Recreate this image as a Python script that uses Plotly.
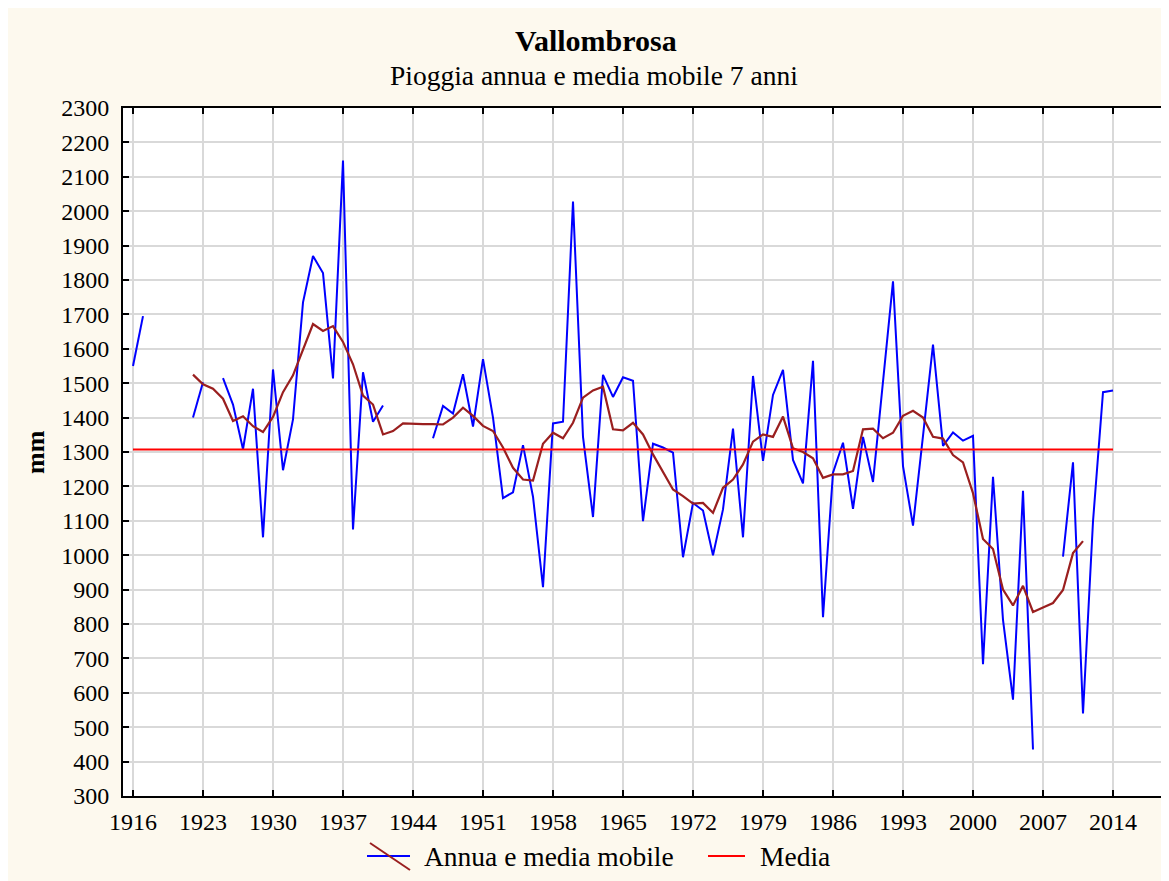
import plotly.graph_objects as go

# ---------------- data ----------------
years = list(range(1916, 2015))

annual = [
    1550, 1695, None, None, None, None, 1400, 1503, None, 1515,   # 1916-1925
    1438, 1308, 1484, 1052, 1540, 1247, 1395, 1735, 1870, 1820,   # 1926-1935
    1514, 2147, 1075, 1532, 1388, 1435, None, None, None, None,   # 1936-1945
    1340, 1434, 1412, 1526, 1374, 1570, 1400, 1166, 1183, 1320,   # 1946-1955
    1170, 907, 1383, 1388, 2028, 1344, 1111, 1524, 1460, 1517,    # 1956-1965
    1507, 1099, 1324, 1313, 1298, 994, 1152, 1130, 1000, 1133,    # 1966-1975
    1368, 1052, 1521, 1274, 1466, 1539, 1277, 1209, 1565, 820,    # 1976-1985
    1240, 1327, 1135, 1344, 1213, 1500, 1796, 1259, 1086, 1347,   # 1986-1995
    1612, 1318, 1357, 1333, 1347, 683, 1228, 812, 580, 1187,      # 1996-2005
    435, None, None, 996, 1270, 540, 1098, 1474, 1479,            # 2006-2014
]

ma_years = list(range(1922, 2012))
moving_avg = [
    1525, 1497, 1484, 1455, 1390, 1404, 1375, 1358, 1402, 1474,   # 1922-1931
    1523, 1598, 1672, 1652, 1666, 1620, 1555, 1464, 1438, 1351,   # 1932-1941
    1361, 1383, 1381, 1381, 1381, 1380, 1400, 1429, 1405, 1376,   # 1942-1951
    1361, 1313, 1254, 1220, 1217, 1324, 1356, 1340, 1385, 1458,   # 1952-1961
    1479, 1490, 1366, 1363, 1385, 1351, 1293, 1243, 1191, 1172,   # 1962-1971
    1150, 1152, 1123, 1196, 1220, 1264, 1330, 1351, 1344, 1403,   # 1972-1981
    1311, 1300, 1282, 1225, 1235, 1235, 1245, 1366, 1368, 1340,   # 1982-1991
    1356, 1405, 1420, 1400, 1344, 1339, 1291, 1270, 1180, 1047,   # 1992-2001
    1018, 900, 854, 911, 835, 848, 861, 899, 1006, 1041,          # 2002-2011
]

mean_years = [1916, 2014]
mean_value = [1307, 1307]

x_ticks = list(range(1916, 2015, 7))
y_ticks = list(range(300, 2301, 100))

legend_labels = ["Annua e media mobile", "Media"]

# ---------------- figure ----------------
W, H = 1169, 881
ML, MR, MT, MB = 115, 0, 100, 93
PW, PH = W - ML - MR, H - MT - MB

def px(x):
    return (x - ML) / PW

def py(y):
    return (H - MB - y) / PH

FONT = "Liberation Serif, Times New Roman, serif"
CREAM = "#FDF9EE"
BLUE, BROWN, RED = "#0000FF", "#9A1F1F", "#FF0000"

fig = go.Figure()

fig.add_trace(go.Scatter(
    x=years, y=annual, mode="lines", name=legend_labels[0],
    line=dict(color=BLUE, width=2), connectgaps=False,
))
fig.add_trace(go.Scatter(
    x=ma_years, y=moving_avg, mode="lines", name="Media mobile 7 anni",
    line=dict(color=BROWN, width=2.2),
))
fig.add_trace(go.Scatter(
    x=mean_years, y=mean_value, mode="lines", name=legend_labels[1],
    line=dict(color=RED, width=2),
))

x_end = 1915 + PW / 10.0
LEG_Y = 848

fig.update_layout(
    width=W, height=H,
    margin=dict(l=ML, r=MR, t=MT, b=MB, pad=0),
    paper_bgcolor=CREAM,
    plot_bgcolor="white",
    font=dict(family=FONT, size=24, color="black"),
    showlegend=False,
    xaxis=dict(
        range=[1915, x_end], tickvals=x_ticks, ticks="inside", ticklen=6,
        tickwidth=1.5, tickcolor="black", showline=True, linecolor="black",
        linewidth=2, mirror="ticks", showgrid=True, gridcolor="#D9D9D9",
        gridwidth=1.5, zeroline=False, tickfont=dict(size=24),
        ticklabelstandoff=3,
    ),
    yaxis=dict(
        range=[300, 2300], tickvals=y_ticks, ticks="inside", ticklen=6,
        tickwidth=1.5, tickcolor="black", showline=True, linecolor="black",
        linewidth=2, mirror=False, showgrid=True, gridcolor="#D9D9D9",
        gridwidth=1.5, zeroline=False, tickfont=dict(size=24),
        ticklabelstandoff=7,
    ),
    annotations=[
        dict(text="<b>Vallombrosa</b>", x=px(588), y=py(32), xref="paper", yref="paper",
             showarrow=False, font=dict(family=FONT, size=30), xanchor="center", yanchor="middle"),
        dict(text="Pioggia annua e media mobile 7 anni", x=px(586), y=py(68), xref="paper",
             yref="paper", showarrow=False, font=dict(family=FONT, size=27.5),
             xanchor="center", yanchor="middle"),
        dict(text="<b>mm</b>", x=px(27), y=py(444), xref="paper", yref="paper",
             showarrow=False, textangle=-90, font=dict(family=FONT, size=26),
             xanchor="center", yanchor="middle"),
        # legend texts
        dict(text=legend_labels[0], x=px(414), y=py(LEG_Y), xref="paper", yref="paper",
             showarrow=False, font=dict(family=FONT, size=27.5),
             xanchor="left", yanchor="middle"),
        dict(text=legend_labels[1], x=px(750), y=py(LEG_Y), xref="paper", yref="paper",
             showarrow=False, font=dict(family=FONT, size=27.5),
             xanchor="left", yanchor="middle"),
    ],
    shapes=[
        # legend symbols
        dict(type="line", xref="paper", yref="paper", x0=px(359), y0=py(LEG_Y), x1=px(402),
             y1=py(LEG_Y), line=dict(color=BLUE, width=2)),
        dict(type="line", xref="paper", yref="paper", x0=px(362), y0=py(LEG_Y - 13), x1=px(402),
             y1=py(LEG_Y + 14), line=dict(color=BROWN, width=2)),
        dict(type="line", xref="paper", yref="paper", x0=px(700), y0=py(LEG_Y), x1=px(737),
             y1=py(LEG_Y), line=dict(color=RED, width=2)),
    ],
)

fig.write_html("out.html")
